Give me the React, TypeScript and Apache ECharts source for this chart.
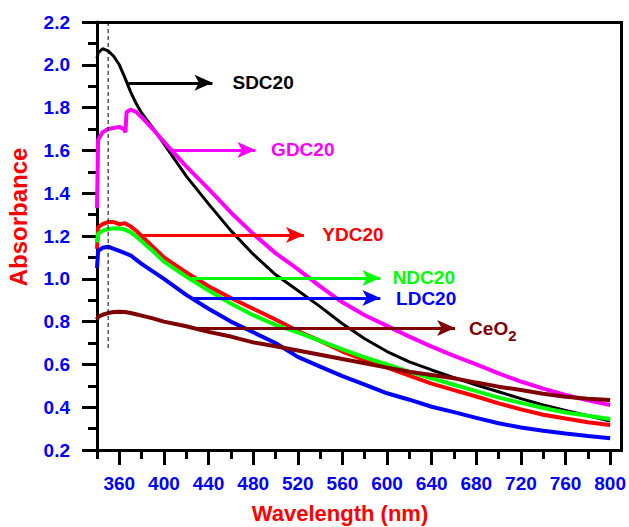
import React, { useEffect, useRef } from 'react';
import * as echarts from 'echarts';

// Wavelength grid (nm)
const wl = [340, 341, 345, 350, 355, 360, 365, 370, 375, 380, 390, 400, 420, 440, 460, 480, 500, 520, 540, 560, 580, 600, 620, 640, 660, 680, 700, 720, 740, 760, 780, 800];
const wlGDC = [340, 341, 345, 350, 355, 360, 364, 365.5, 366.5, 370, 375, 380, 390, 400, 420, 440, 460, 480, 500, 520, 540, 560, 580, 600, 620, 640, 660, 680, 700, 720, 740, 760, 780, 800];

const sdc20 = [2.03, 2.055, 2.075, 2.065, 2.04, 2.0, 1.94, 1.875, 1.82, 1.775, 1.705, 1.63, 1.48, 1.35, 1.225, 1.115, 1.02, 0.945, 0.87, 0.79, 0.72, 0.66, 0.612, 0.574, 0.538, 0.503, 0.472, 0.44, 0.41, 0.385, 0.36, 0.335];
const gdc20 = [1.33, 1.65, 1.685, 1.7, 1.705, 1.71, 1.7, 1.685, 1.78, 1.79, 1.78, 1.755, 1.7, 1.64, 1.525, 1.42, 1.31, 1.21, 1.12, 1.045, 0.965, 0.89, 0.83, 0.78, 0.73, 0.683, 0.64, 0.6, 0.558, 0.52, 0.487, 0.457, 0.432, 0.41];
const ydc20 = [1.14, 1.24, 1.255, 1.265, 1.265, 1.255, 1.26, 1.245, 1.225, 1.2, 1.15, 1.1, 1.03, 0.965, 0.91, 0.86, 0.81, 0.756, 0.71, 0.66, 0.62, 0.585, 0.548, 0.51, 0.48, 0.45, 0.418, 0.39, 0.365, 0.347, 0.33, 0.317];
const ndc20 = [1.17, 1.21, 1.225, 1.232, 1.236, 1.235, 1.23, 1.218, 1.198, 1.175, 1.13, 1.08, 1.01, 0.945, 0.885, 0.83, 0.785, 0.75, 0.71, 0.67, 0.633, 0.6, 0.565, 0.535, 0.505, 0.475, 0.445, 0.42, 0.396, 0.375, 0.36, 0.345];
const ldc20 = [1.05, 1.13, 1.145, 1.15, 1.14, 1.13, 1.12, 1.11, 1.09, 1.07, 1.035, 1.0, 0.925, 0.86, 0.8, 0.75, 0.7, 0.635, 0.59, 0.545, 0.505, 0.465, 0.435, 0.402, 0.377, 0.35, 0.325, 0.305, 0.29, 0.277, 0.265, 0.255];
const ceo2 = [0.81, 0.822, 0.832, 0.84, 0.845, 0.846, 0.845, 0.84, 0.834, 0.828, 0.815, 0.8, 0.778, 0.752, 0.73, 0.703, 0.685, 0.665, 0.645, 0.625, 0.605, 0.585, 0.566, 0.55, 0.535, 0.515, 0.496, 0.48, 0.463, 0.449, 0.44, 0.434];

// Annotation arrows: y level, start wavelength, end wavelength
const names = ['SDC20', 'GDC20', 'YDC20', 'NDC20', 'LDC20', 'CeO2'];
const colors = ['#000000', '#ff00ff', '#ff0000', '#00ff00', '#0000ff', '#800000'];
const arrowY = [1.916, 1.602, 1.205, 1.004, 0.91, 0.77];
const arrowStart = [368, 406.8, 378.4, 423, 425.8, 425.8];
const arrowEnd = [443.5, 482, 525.5, 594, 594, 661];
const labelDist = [20, 15.7, 18.4, 12.3, 15.7, 14];

// Dashed guide line
const guideX = 350;
const guideY = [2.2, 0.665];

// Axis ranges and ticks
const xRange = [340, 810];
const yRange = [0.2, 2.2];
const xMajorTicks = [360, 400, 440, 480, 520, 560, 600, 640, 680, 720, 760, 800];
const xMinorTicks = [340, 380, 420, 460, 500, 540, 580, 620, 660, 700, 740, 780];
const yMajorTicks = [0.2, 0.4, 0.6, 0.8, 1.0, 1.2, 1.4, 1.6, 1.8, 2.0, 2.2];
const yMinorTicks = [0.3, 0.5, 0.7, 0.9, 1.1, 1.3, 1.5, 1.7, 1.9, 2.1];

const FONT = 'Arial, Liberation Sans, sans-serif';

export default function App() {
  const ref = useRef<HTMLDivElement>(null);
  const frameRef = useRef<HTMLDivElement>(null);

  useEffect(() => {
    if (!ref.current) return;
    const chart = echarts.init(ref.current, null, { renderer: 'svg' });

    const seriesData = [
      { xs: wl, ys: sdc20, w: 3 },
      { xs: wlGDC, ys: gdc20, w: 4 },
      { xs: wl, ys: ydc20, w: 4 },
      { xs: wl, ys: ndc20, w: 4 },
      { xs: wl, ys: ldc20, w: 4 },
      { xs: wl, ys: ceo2, w: 4 },
    ];

    const series: any[] = seriesData.map((s, i) => ({
      name: names[i],
      type: 'line',
      xAxisIndex: 0,
      yAxisIndex: 0,
      data: s.xs.map((x, k) => [x, s.ys[k]]),
      showSymbol: false,
      symbol: 'none',
      lineStyle: { color: colors[i], width: s.w },
      markLine: {
        silent: true,
        animation: false,
        symbol: ['none', 'arrow'],
        lineStyle: { color: colors[i], width: 3, type: 'solid' },
        label: {
          show: true,
          position: 'end',
          distance: labelDist[i],
          formatter: names[i] === 'CeO2' ? '{a|CeO}{b|2}' : names[i],
          color: colors[i],
          fontSize: 19,
          fontWeight: 'bold',
          fontFamily: FONT,
          rich: {
            a: { fontSize: 19, fontWeight: 'bold', fontFamily: FONT, color: colors[i] },
            b: { fontSize: 15, fontWeight: 'bold', fontFamily: FONT, color: colors[i], padding: [14, 0, 0, 0] },
          },
        },
        data: [
          [
            { coord: [arrowStart[i], arrowY[i]], symbol: 'none' },
            { coord: [arrowEnd[i], arrowY[i]], symbol: 'arrow', symbolSize: [12, 18] },
          ],
        ],
      },
    }));

    series.push({
      name: 'guide',
      type: 'line',
      data: [
        [guideX, guideY[0]],
        [guideX, guideY[1]],
      ],
      showSymbol: false,
      symbol: 'none',
      lineStyle: { color: '#000', width: 1, type: [4, 3] },
    });

    const tickLabel = {
      color: '#0000ff',
      fontSize: 19,
      fontWeight: 'bold',
      fontFamily: FONT,
    };

    chart.setOption({
      animation: false,
      backgroundColor: '#ffffff',
      grid: {
        left: 97,
        top: 22,
        right: 6,
        bottom: 77,
      },
      xAxis: [
        {
          type: 'value',
          min: xRange[0],
          max: xRange[1],
          position: 'bottom',
          axisLine: { show: true, onZero: false, lineStyle: { color: '#000', width: 3 } },
          axisTick: { show: true, length: 9, lineStyle: { color: '#000', width: 3 }, customValues: xMinorTicks },
          axisLabel: { show: false },
          splitLine: { show: false },
        },
        {
          type: 'value',
          min: xRange[0],
          max: xRange[1],
          position: 'bottom',
          axisLine: { show: false, onZero: false },
          axisTick: { show: true, length: 15, lineStyle: { color: '#000', width: 3 }, customValues: xMajorTicks },
          axisLabel: { show: true, margin: 24, customValues: xMajorTicks, ...tickLabel },
          splitLine: { show: false },
        },
      ],
      yAxis: [
        {
          type: 'value',
          min: yRange[0],
          max: yRange[1],
          position: 'left',
          axisLine: { show: true, onZero: false, lineStyle: { color: '#000', width: 3 } },
          axisTick: { show: true, length: 9, lineStyle: { color: '#000', width: 3 }, customValues: yMinorTicks },
          axisLabel: { show: false },
          splitLine: { show: false },
        },
        {
          type: 'value',
          min: yRange[0],
          max: yRange[1],
          position: 'left',
          axisLine: { show: false, onZero: false },
          axisTick: { show: true, length: 15, lineStyle: { color: '#000', width: 3 }, customValues: yMajorTicks },
          axisLabel: {
            show: true,
            margin: 27,
            customValues: yMajorTicks,
            formatter: (v: number) => v.toFixed(1),
            ...tickLabel,
          },
          splitLine: { show: false },
        },
      ],
      graphic: [
        {
          type: 'text',
          x: 18,
          y: 217,
          rotation: Math.PI / 2,
          style: {
            text: 'Absorbance',
            fill: '#ff0000',
            fontSize: 24,
            fontWeight: 'bold',
            fontFamily: FONT,
            align: 'center',
            verticalAlign: 'middle',
          },
        },
        {
          type: 'text',
          x: 340,
          y: 513,
          style: {
            text: 'Wavelength (nm)',
            fill: '#ff0000',
            fontSize: 22,
            fontWeight: 'bold',
            fontFamily: FONT,
            align: 'center',
            verticalAlign: 'middle',
          },
        },
      ],
      series,
    });

    // Top and right edges of the plot frame, placed from the axes' scales
    const p0 = chart.convertToPixel({ gridIndex: 0 }, [xRange[0], yRange[1]]) as number[];
    const p2 = chart.convertToPixel({ gridIndex: 0 }, [xRange[1], yRange[0]]) as number[];
    const f = frameRef.current;
    if (f && p0 && p2) {
      const half = 1.5;
      f.style.left = `${p0[0] - half}px`;
      f.style.top = `${p0[1] - half}px`;
      f.style.width = `${p2[0] - p0[0] + 2 * half}px`;
      f.style.height = `${p2[1] - p0[1] + 2 * half}px`;
    }

    return () => chart.dispose();
  }, []);

  return (
    <div style={{ position: 'fixed', left: 0, top: 0, width: 629, height: 527, background: '#fff' }}>
      <div ref={ref} style={{ position: 'absolute', left: 0, top: 0, width: 629, height: 527 }} />
      <div
        ref={frameRef}
        style={{
          position: 'absolute',
          left: 95.5,
          top: 20.5,
          width: 528.7,
          height: 431,
          boxSizing: 'border-box',
          borderTop: '3px solid #000',
          borderRight: '3px solid #000',
          pointerEvents: 'none',
          zIndex: 1,
        }}
      />
    </div>
  );
}
